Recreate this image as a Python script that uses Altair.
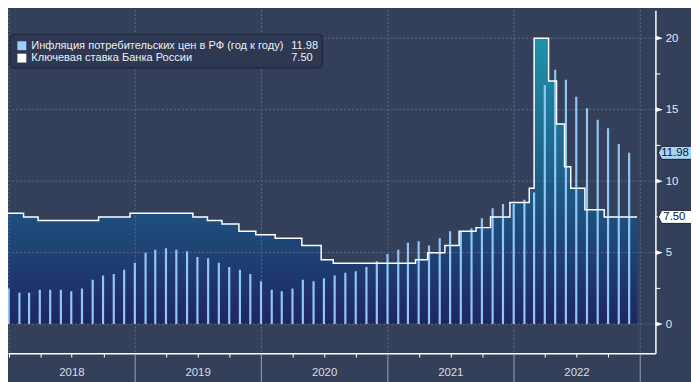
import altair as alt
import pandas as pd

# ---------------- data ----------------
infl_months = [
    "2017-12",
    "2018-01", "2018-02", "2018-03", "2018-04", "2018-05", "2018-06",
    "2018-07", "2018-08", "2018-09", "2018-10", "2018-11", "2018-12",
    "2019-01", "2019-02", "2019-03", "2019-04", "2019-05", "2019-06",
    "2019-07", "2019-08", "2019-09", "2019-10", "2019-11", "2019-12",
    "2020-01", "2020-02", "2020-03", "2020-04", "2020-05", "2020-06",
    "2020-07", "2020-08", "2020-09", "2020-10", "2020-11", "2020-12",
    "2021-01", "2021-02", "2021-03", "2021-04", "2021-05", "2021-06",
    "2021-07", "2021-08", "2021-09", "2021-10", "2021-11", "2021-12",
    "2022-01", "2022-02", "2022-03", "2022-04", "2022-05", "2022-06",
    "2022-07", "2022-08", "2022-09", "2022-10", "2022-11",
]
infl_values = [
    2.5,
    2.2, 2.2, 2.4, 2.4, 2.4, 2.3, 2.5, 3.1, 3.4, 3.5, 3.8, 4.3,
    5.0, 5.2, 5.3, 5.2, 5.1, 4.7, 4.6, 4.3, 4.0, 3.8, 3.5, 3.0,
    2.4, 2.3, 2.5, 3.1, 3.0, 3.2, 3.4, 3.6, 3.7, 4.0, 4.4, 4.9,
    5.2, 5.7, 5.8, 5.5, 6.0, 6.5, 6.5, 6.7, 7.4, 8.1, 8.4, 8.4,
    8.7, 9.2, 16.7, 17.8, 17.1, 15.9, 15.1, 14.3, 13.7, 12.6, 11.98,
]

rate_dates = [
    "2017-12-18", "2018-02-12", "2018-03-26", "2018-09-17", "2018-12-17",
    "2019-06-17", "2019-07-29", "2019-09-09", "2019-10-28", "2019-12-16",
    "2020-02-10", "2020-04-27", "2020-06-22", "2020-07-27",
    "2021-03-22", "2021-04-26", "2021-06-15", "2021-07-26", "2021-09-13",
    "2021-10-25", "2021-12-20",
    "2022-02-14", "2022-02-28", "2022-04-11", "2022-05-04", "2022-05-27",
    "2022-06-14", "2022-07-25", "2022-09-19", "2022-12-23",
]
rate_values = [
    7.75, 7.50, 7.25, 7.50, 7.75,
    7.50, 7.25, 7.00, 6.50, 6.25,
    6.00, 5.50, 4.50, 4.25,
    4.50, 5.00, 5.50, 6.50, 6.75,
    7.50, 8.50,
    9.50, 20.00, 17.00, 14.00, 11.00,
    9.50, 8.00, 7.50, 7.50,
]

year_grid = ["2018-01-01", "2019-01-01", "2020-01-01", "2021-01-01", "2022-01-01", "2023-01-01"]
year_sep = ["2019-01-01", "2020-01-01", "2021-01-01", "2022-01-01", "2023-01-01"]
year_labels = ["2018", "2019", "2020", "2021", "2022"]
year_mids = ["2018-07-02", "2019-07-02", "2020-07-02", "2021-07-02", "2022-07-02"]
quarter_ticks = ["2018-01-01"] + [f"{y}-{m}-01" for y in range(2018, 2023) for m in ("04", "07", "10")]
y_major = [0, 5, 10, 15, 20]
y_minor = [2.5, 7.5, 12.5, 17.5]

legend_names = ["Инфляция потребительских цен в РФ (год к году)", "Ключевая ставка Банка России"]
legend_values = [infl_values[-1], rate_values[-1]]
legend_colors = ["#9fcdf7", "#ffffff"]

# ---------------- style ----------------
W, H = 655, 347
BG = "#344059"
GRID = "#5d6a86"
FONT = "Liberation Sans"
TXT = "#e4e8ef"
BAR = "#8fc8f8"

infl_df = pd.DataFrame({
    "date": pd.to_datetime([m + "-01" for m in infl_months]) + pd.offsets.MonthEnd(0),
    "value": infl_values,
})
rate_df = pd.DataFrame({"date": pd.to_datetime(rate_dates), "rate": rate_values})


def dt(s):
    t = pd.Timestamp(s)
    return alt.DateTime(year=t.year, month=t.month, date=t.day)


xscale = alt.Scale(domain=[dt("2017-12-29"), dt("2023-02-14")], nice=False)
yscale = alt.Scale(domain=[-2.03, 21.96], nice=False, zero=False)

xaxis = alt.Axis(
    values=[dt(q) for q in quarter_ticks], labels=False, title=None, grid=False,
    ticks=True, tickSize=4, tickColor="#ffffff", tickWidth=1,
    domainColor="#ffffff", domainWidth=1.5,
)
yaxis = alt.Axis(
    orient="right", values=y_major, ticks=False, grid=False, title=None,
    labelColor=TXT, labelFont=FONT, labelFontSize=11.5, labelPadding=10,
    labelBaseline="middle", domainColor="#ffffff", domainWidth=1.5,
)


def X(field):
    return alt.X(field, type="temporal", scale=xscale, axis=xaxis)


def Y(field):
    return alt.Y(field, type="quantitative", scale=yscale, axis=yaxis)


gradient = alt.Gradient(
    gradient="linear",
    stops=[alt.GradientStop(color="#1e93ab", offset=0),
           alt.GradientStop(color="#1f2660", offset=1)],
    x1=1, x2=1, y1=0, y2=1,
)

area = alt.Chart(rate_df).mark_area(interpolate="step-after", clip=True, color=gradient).encode(
    x=X("date"), y=Y("rate"), y2=alt.value(H)
)

hgrid = alt.Chart(pd.DataFrame({"v": y_major})).mark_rule(
    color=GRID, strokeDash=[2, 2], strokeWidth=1
).encode(y=Y("v"), x=alt.value(0), x2=alt.value(W))

vgrid = alt.Chart(pd.DataFrame({"d": pd.to_datetime(year_grid)})).mark_rule(
    color=GRID, strokeDash=[2, 2], strokeWidth=1
).encode(x=X("d"), y=alt.value(0), y2=alt.value(H))

bars = alt.Chart(infl_df).mark_rule(color=BAR, strokeWidth=2.2, clip=True).encode(
    x=X("date"), y=Y("value"), y2=alt.datum(0)
)

line = alt.Chart(rate_df).mark_line(
    interpolate="step-after", clip=True, color="#ffffff", strokeWidth=1.5
).encode(x=X("date"), y=Y("rate"))

ysep = alt.Chart(pd.DataFrame({"d": pd.to_datetime(year_sep)})).mark_rule(
    color="#9aa2b4", strokeWidth=1
).encode(x=X("d"), y=alt.value(H + 1), y2=alt.value(H + 30))

ylab = alt.Chart(pd.DataFrame({"d": pd.to_datetime(year_mids), "t": year_labels})).mark_text(
    font=FONT, fontSize=11.5, color="#d9dde5", baseline="middle", align="center"
).encode(x=X("d"), y=alt.value(H + 20), text="t:N")

tri = alt.Chart(pd.DataFrame({"v": y_major})).mark_point(
    shape="M -1 -0.7 L 1 0 L -1 0.7 Z", filled=True, color="#ffffff", size=49, opacity=1
).encode(y=Y("v"), x=alt.value(W + 4))

minor = alt.Chart(pd.DataFrame({"v": y_minor})).mark_rule(color="#ffffff", strokeWidth=1).encode(
    y=Y("v"), x=alt.value(W), x2=alt.value(W + 5)
)

box_shape = "M -1 0 L -0.83 -0.33 L 1 -0.33 L 1 0.33 L -0.83 0.33 Z"
tag_fills = ["#a8d3f7", "#ffffff"]
tags = []
for val, fill, tx in zip(legend_values, tag_fills, [W + 6, W + 8]):
    d = pd.DataFrame({"v": [val], "t": [f"{val:.2f}"]})
    tags.append(alt.Chart(d).mark_point(
        shape=box_shape, filled=True, fill=fill, stroke="#18203a", strokeWidth=1,
        size=1600, opacity=1
    ).encode(y=Y("v"), x=alt.value(W + 23)))
    tags.append(alt.Chart(d).mark_text(
        font=FONT, fontSize=11.5, color="#111522", align="left", baseline="middle"
    ).encode(y=Y("v"), x=alt.value(tx), text="t:N"))

legend_box = alt.Chart(pd.DataFrame({"a": [0]})).mark_rect(
    fill="#2e3853", stroke="#1a2137", strokeWidth=1, cornerRadius=4
).encode(x=alt.value(2), x2=alt.value(318), y=alt.value(24.5), y2=alt.value(58.5))

legend_layers = []
for i, (name, val, col) in enumerate(zip(legend_names, legend_values, legend_colors)):
    yy = 36 + i * 12.5
    d = pd.DataFrame({"n": [name], "v": [f"{val:.2f}"]})
    legend_layers.append(alt.Chart(d).mark_square(size=81, color=col, opacity=1).encode(
        x=alt.value(14), y=alt.value(yy)))
    legend_layers.append(alt.Chart(d).mark_text(
        font=FONT, fontSize=11.2, color="#eceff4", align="left", baseline="middle"
    ).encode(x=alt.value(23.5), y=alt.value(yy), text="n:N"))
    legend_layers.append(alt.Chart(d).mark_text(
        font=FONT, fontSize=11.2, color="#eceff4", align="left", baseline="middle"
    ).encode(x=alt.value(286.5), y=alt.value(yy), text="v:N"))

chart = alt.layer(
    area, hgrid, vgrid, bars, line, ysep, ylab, tri, minor, *tags, legend_box, *legend_layers
).properties(
    width=W, height=H,
    autosize=alt.AutoSizeParams(type="none"),
    padding={"left": 0, "top": 0, "right": 36, "bottom": 27},
    background=BG,
).configure_view(stroke=None)

chart.save("out.html", embed_options={"renderer": "svg", "actions": False})
